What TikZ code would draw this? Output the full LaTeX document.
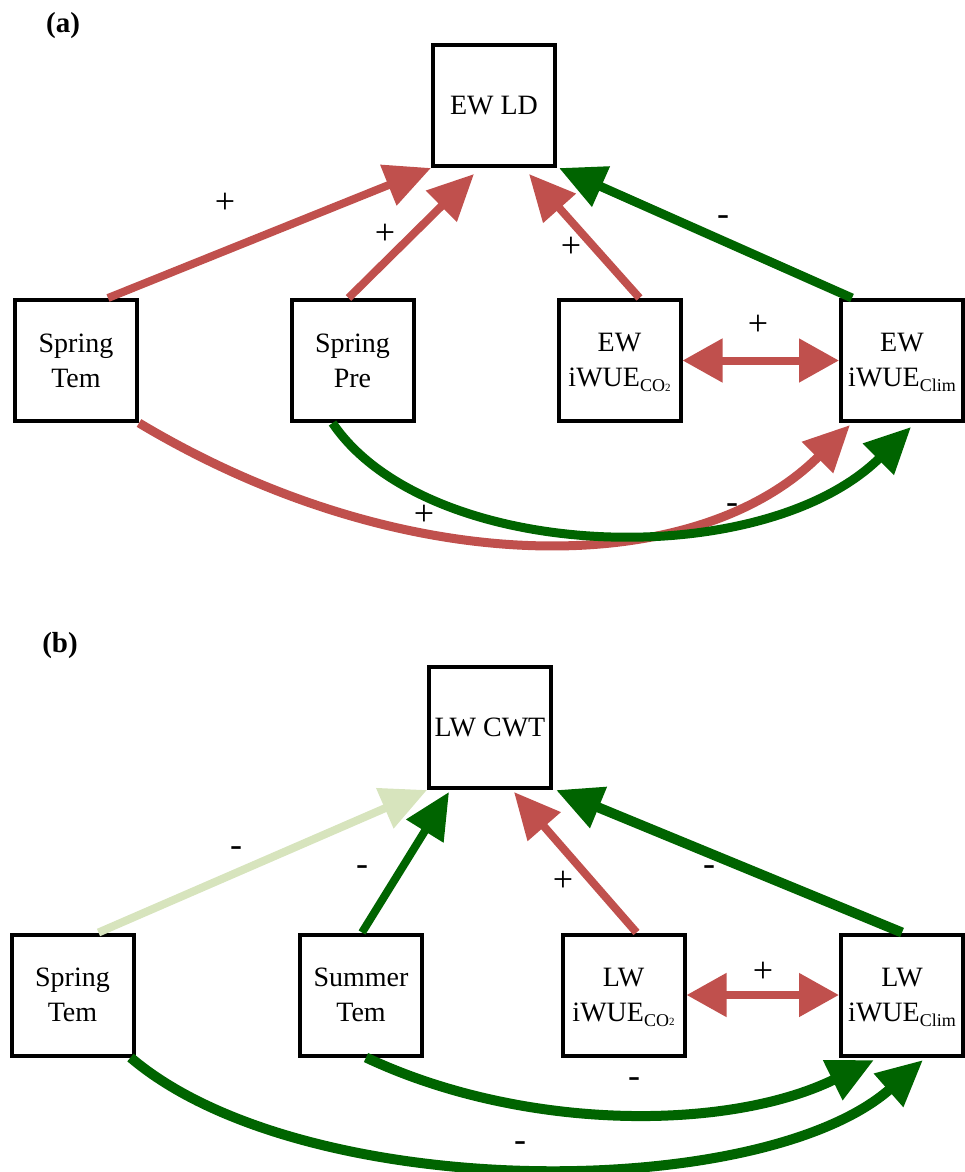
\documentclass[tikz,border=0pt]{standalone}
\usepackage{fontspec}
\setmainfont{Liberation Serif}
\usetikzlibrary{arrows.meta,calc}
\definecolor{redA}{RGB}{192,80,77}
\definecolor{greenA}{RGB}{0,100,0}
\definecolor{lightG}{RGB}{215,228,189}
\newcommand\subCO{\raisebox{-5pt}[0pt][0pt]{\fontsize{18}{18}\selectfont CO\raisebox{0.5pt}{\fontsize{11}{11}\selectfont 2}}}
\newcommand\subClim{\raisebox{-5pt}[0pt][0pt]{\fontsize{18}{18}\selectfont Clim}}
\begin{document}
\begin{tikzpicture}[x=1pt,y=-1pt,
  box/.style={draw, line width=4pt, minimum width=122pt, minimum height=121pt, inner sep=0pt, align=center, font=\fontsize{28}{35}\selectfont},
  lab/.style={font=\fontsize{36}{36}\selectfont, inner sep=0pt},
  panel/.style={font=\bfseries\fontsize{29}{29}\selectfont, inner sep=0pt},
  arr/.style={-{Triangle[length=46pt,width=42pt]}, line width=#1},
  arr/.default=8pt,
  darr/.style={{Triangle[length=40pt,width=42pt]}-{Triangle[length=40pt,width=42pt]}, line width=#1},
  darr/.default=8pt
]
\useasboundingbox (0,0) rectangle (965,1172);

% ---------- panel (a)
\node[panel] (pa) at (63,26) {(a)};
\node[box] (ld) at (494,105.5) {EW LD};
\node[box] (stA) at (76,360.5) {Spring\\Tem};
\node[box] (spA) at (352.5,360.5) {Spring\\Pre};
\node[box] (co2A) at (619.5,360.5) {EW\\iWUE\subCO};
\node[box] (clA) at (902,360.5) {EW\\iWUE\subClim};

\draw[arr, redA] ($(stA.north)+(32,0)$) -- (ld.south west);
\draw[arr, redA] ($(spA.north)+(-4,0)$) -- ($(ld.south)+(-20,6)$);
\draw[arr, redA] ($(co2A.north)+(20,0)$) -- ($(ld.south)+(35,6)$);
\draw[arr=9pt, greenA] ($(clA.north)+(-50,0)$) -- ($(ld.south east)+(2,0)$);
\draw[darr, redA] (co2A.east) -- (clA.west);
\draw[arr=9pt, redA] (stA.south east) .. controls ($(stA.south east)+(264,158)$) and ($(clA.south west)+(-145,158)$) .. ($(clA.south west)+(11,2)$);
\draw[arr=9pt, greenA] ($(spA.south)+(-20,0)$) .. controls ($(spA.south)+(75,140)$) and ($(clA.south)+(-140,151)$) .. ($(clA.south)+(9,4)$);

\node[lab] (a1) at (225,203) {+};
\node[lab] (a2) at (385,234) {+};
\node[lab] (a3) at (571,247) {+};
\node[lab] (a4) at (723,221) {-};
\node[lab] (a5) at (758,325) {+};
\node[lab] (a6) at (424,515) {+};
\node[lab] (a7) at (732,509) {-};

% ---------- panel (b)
\node[panel] (pb) at (60,646) {(b)};
\node[box] (cwt) at (490,727.5) {LW CWT};
\node[box] (stB) at (72.5,995) {Spring\\Tem};
\node[box] (suB) at (361,995) {Summer\\Tem};
\node[box] (co2B) at (623.5,995) {LW\\iWUE\subCO};
\node[box] (clB) at (902,995) {LW\\iWUE\subClim};

\draw[arr, lightG] ($(stB.north)+(26,0)$) -- (cwt.south west);
\draw[arr, greenA] ($(suB.north)+(1,0)$) -- ($(cwt.south)+(-41,2)$);
\draw[arr, redA] ($(co2B.north)+(13,0)$) -- ($(cwt.south)+(24,2)$);
\draw[arr=10pt, greenA] (clB.north) -- ($(cwt.south east)+(3,0)$);
\draw[darr, redA] (co2B.east) -- (clB.west);
\draw[arr=10pt, greenA] ($(suB.south)+(5,0)$) .. controls ($(suB.south)+(162,74)$) and ($(clB.south)+(-174,74)$) .. ($(clB.south)+(-28,2.5)$);
\draw[arr=10pt, greenA] ($(stB.south east)+(-5,0)$) .. controls ($(stB.south east)+(166,146)$) and ($(clB.south)+(-142,146)$) .. ($(clB.south)+(21,2.5)$);

\node[lab] (b1) at (236,852) {-};
\node[lab] (b2) at (362,871) {-};
\node[lab] (b3) at (563,881) {+};
\node[lab] (b4) at (709,871) {-};
\node[lab] (b5) at (763,972) {+};
\node[lab] (b6) at (634,1083) {-};
\node[lab] (b7) at (520,1147) {-};
\end{tikzpicture}
\end{document}
